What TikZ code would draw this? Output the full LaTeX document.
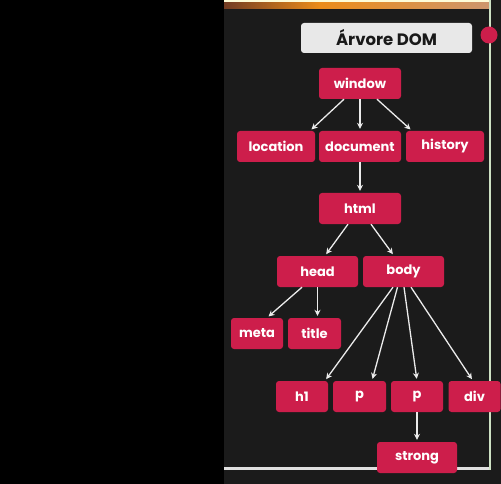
\documentclass[tikz,border=0pt]{standalone}
\usepackage{fontspec}
\setmainfont{Poppins}
\usetikzlibrary{arrows.meta}

\definecolor{domred}{RGB}{205,30,75}
\definecolor{panelgray}{RGB}{27,27,27}
\definecolor{titlegray}{RGB}{232,232,232}
\definecolor{rimgreen}{RGB}{205,225,195}
\definecolor{stripbrown}{RGB}{115,60,35}
\definecolor{striporange}{RGB}{235,140,25}
\definecolor{strippeach}{RGB}{205,150,110}

\tikzset{
  domnode/.style={fill=domred, rounded corners=3pt, text=white,
    font=\bfseries\fontsize{13}{15}\selectfont, minimum height=31pt, inner sep=0pt},
  domarrow/.style={draw=white!92!black, line width=1.3pt,
    -{Stealth[length=6pt,width=6pt]}, shorten >=2pt}
}

\begin{document}
\begin{tikzpicture}[x=1pt,y=-1pt]
   % background and frame
   \fill[black] (0,0) rectangle (501,484);
   \fill[panelgray] (224,0) rectangle (501,484);
   \shade[left color=stripbrown, right color=striporange] (224,3) rectangle (320,9);
   \shade[left color=striporange, right color=strippeach] (320,3) rectangle (490,9);
   \fill[white!85!yellow] (224,0) rectangle (490,2.5);
   \fill[white!88!black] (224,467) rectangle (491,469.5);
   \fill[rimgreen] (489,0) rectangle (491,469.5);
   \fill[domred] (489,35) circle (8.5pt);

   % title
   \node[fill=titlegray, rounded corners=3pt, minimum width=171pt, minimum height=30pt,
     inner sep=0pt, font=\bfseries\fontsize{16.5}{18}\selectfont, text=black!90] (heading) at (386.5,38) {Árvore DOM};

   % nodes
   \node[domnode, minimum width=82pt] (window) at (360,83.5) {window};
   \node[domnode, minimum width=78pt] (location) at (276,146.5) {location};
   \node[domnode, minimum width=82pt] (document) at (360,146.5) {document};
   \node[domnode, minimum width=78pt] (history) at (445,146.5) {history};
   \node[domnode, minimum width=82pt] (html) at (360,208.5) {html};
   \node[domnode, minimum width=81pt] (head) at (317.5,271.5) {head};
   \node[domnode, minimum width=81pt] (body) at (403.5,271.5) {body};
   \node[domnode, minimum width=52pt] (meta) at (257,333.5) {meta};
   \node[domnode, minimum width=53pt] (title) at (314.5,333.5) {title};
   \node[domnode, minimum width=52pt] (h1) at (302,396.5) {h1};
   \node[domnode, minimum width=53pt] (p1) at (359.5,396.5) {p};
   \node[domnode, minimum width=52pt] (p2) at (417,396.5) {p};
   \node[domnode, minimum width=52pt] (div) at (474.5,396.5) {div};
   \node[domnode, minimum width=80pt] (strong) at (417,457.5) {strong};

   % arrows
   \draw[domarrow] ([xshift=-16pt]window.south) -- ([xshift=34pt]location.north);
   \draw[domarrow] (window) -- (document);
   \draw[domarrow] ([xshift=17pt]window.south) -- ([xshift=-33pt]history.north);
   \draw[domarrow] (document) -- (html);
   \draw[domarrow] ([xshift=-12pt]html.south) -- ([xshift=7.5pt]head.north);
   \draw[domarrow] ([xshift=11pt]html.south) -- ([xshift=-9.5pt]body.north);
   \draw[domarrow] ([xshift=-15.5pt]head.south) -- ([xshift=10pt]meta.north);
   \draw[domarrow] ([xshift=3pt]title.north |- head.south) -- ([xshift=3pt]title.north);
   \draw[domarrow] ([xshift=-10.5pt]body.south) -- ([xshift=23pt]h1.north);
   \draw[domarrow] ([xshift=-6pt]body.south) -- ([xshift=12.5pt]p1.north);
   \draw[domarrow] ([xshift=0.5pt]body.south) -- (p2.north);
   \draw[domarrow] ([xshift=7.5pt]body.south) -- ([xshift=-1.5pt]div.north);
   \draw[domarrow] (p2) -- (strong);
\end{tikzpicture}
\end{document}
